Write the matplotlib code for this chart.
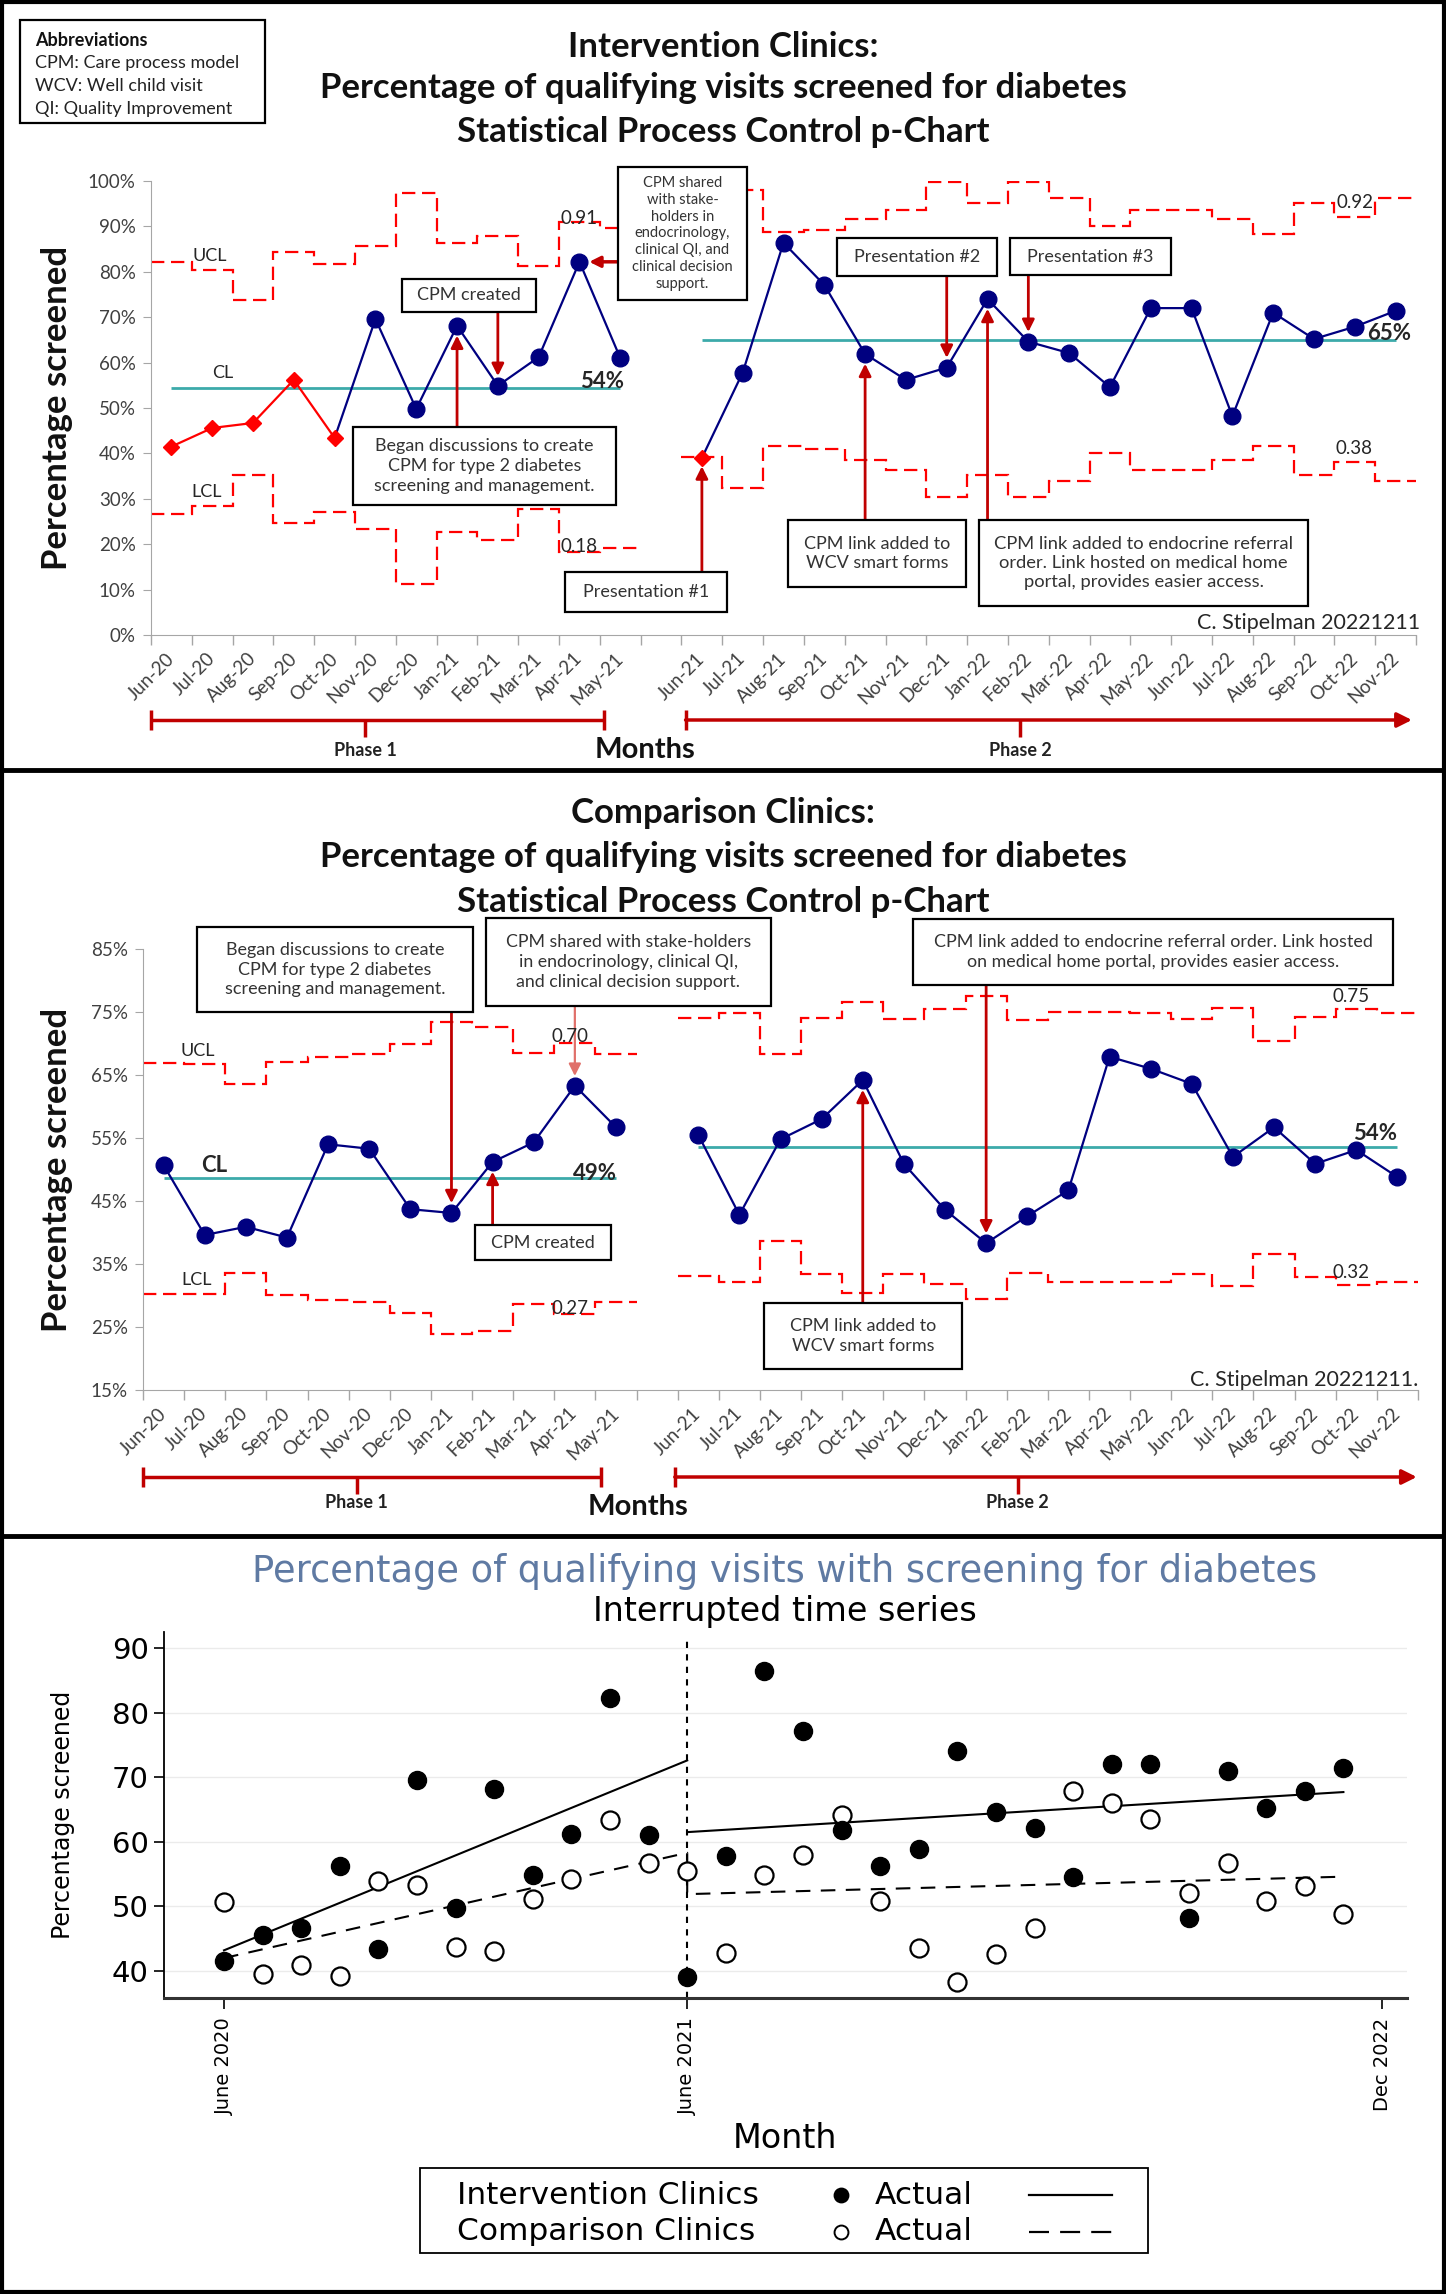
import numpy as np
import matplotlib
matplotlib.use('Agg')
import matplotlib.pyplot as plt
from matplotlib.patches import Rectangle
from matplotlib.transforms import blended_transform_factory as blend

# 데이터
months_p1 = ['Jun-20', 'Jul-20', 'Aug-20', 'Sep-20', 'Oct-20', 'Nov-20', 'Dec-20',
             'Jan-21', 'Feb-21', 'Mar-21', 'Apr-21', 'May-21']
months_p2 = ['Jun-21', 'Jul-21', 'Aug-21', 'Sep-21', 'Oct-21', 'Nov-21', 'Dec-21',
             'Jan-22', 'Feb-22', 'Mar-22', 'Apr-22', 'May-22', 'Jun-22', 'Jul-22',
             'Aug-22', 'Sep-22', 'Oct-22', 'Nov-22']
x_p1 = np.arange(12)
x_p2 = np.arange(13, 31)

# Intervention clinics (%)
int_p1 = [41.5, 45.6, 46.7, 56.2, 43.4, 69.6, 49.8, 68.1, 54.9, 61.2, 82.2, 61.0]
int_p2 = [39.0, 57.8, 86.4, 77.1, 61.9, 56.2, 58.9, 74.0, 64.6, 62.1, 54.6, 72.0,
          72.0, 48.2, 71.0, 65.2, 67.9, 71.4]
int_red_p1 = 5      # first 5 points flagged (red diamonds)
int_red_p2 = 1
int_ucl_p1 = [82.2, 80.5, 73.7, 84.4, 81.8, 85.7, 97.4, 86.3, 87.9, 81.3, 90.9, 89.6]
int_lcl_p1 = [26.6, 28.4, 35.2, 24.6, 27.1, 23.3, 11.3, 22.6, 20.9, 27.8, 18.2, 19.2]
int_ucl_p2 = [98.3, 98.0, 88.7, 89.2, 91.6, 93.6, 99.7, 95.1, 99.7, 96.2, 90.0, 93.6,
              93.6, 91.6, 88.3, 95.1, 92.1, 96.2]
int_lcl_p2 = [39.3, 32.3, 41.6, 41.0, 38.5, 36.3, 30.4, 35.2, 30.4, 33.9, 40.1, 36.3,
              36.3, 38.5, 41.7, 35.2, 38.2, 33.9]
int_cl = [54.4, 65.0]

# Comparison clinics (%)
cmp_p1 = [50.7, 39.6, 40.9, 39.2, 54.0, 53.3, 43.7, 43.1, 51.2, 54.3, 63.3, 56.7]
cmp_p2 = [55.5, 42.8, 54.8, 58.0, 64.2, 50.9, 43.6, 38.3, 42.6, 46.7, 67.9, 66.0,
          63.6, 52.0, 56.7, 50.9, 53.1, 48.8]
cmp_ucl_p1 = [66.9, 66.7, 63.6, 67.1, 67.9, 68.3, 69.9, 73.4, 72.6, 68.5, 70.1, 68.3]
cmp_lcl_p1 = [30.2, 30.2, 33.6, 30.1, 29.3, 28.9, 27.3, 23.9, 24.4, 28.6, 27.1, 28.9]
cmp_ucl_p2 = [74.0, 74.9, 68.3, 74.0, 76.6, 73.9, 75.5, 77.6, 73.7, 75.0, 75.0, 74.9,
              73.9, 75.7, 70.4, 74.2, 75.5, 74.9]
cmp_lcl_p2 = [33.1, 32.1, 38.7, 33.4, 30.4, 33.4, 31.8, 29.4, 33.6, 32.1, 32.2, 32.2,
              33.4, 31.5, 36.6, 32.9, 31.7, 32.1]
cmp_cl = [48.6, 53.6]

# Interrupted time series
its_months = np.arange(30)
its_int = int_p1 + int_p2
its_cmp = cmp_p1 + cmp_p2
fit_int_pre_x, fit_int_pre_y = [0, 12], [43.2, 72.6]
fit_int_post_x, fit_int_post_y = [12, 29], [61.5, 67.7]
fit_cmp_x, fit_cmp_y = [0, 12, 12, 29], [42.0, 58.3, 51.9, 54.6]
its_tick_pos = [0, 12, 30]
its_tick_lab = ['June 2020', 'June 2021', 'Dec 2022']

W, H = 1446, 2294
CAL = ['Lato', 'DejaVu Sans']
ARI = ['DejaVu Sans']
plt.rcParams['font.family'] = CAL

NAVY = '#000080'
RED = '#FF0000'
DRED = '#C00000'
TEAL = '#3CAAAA'
GREY = '#404040'

fig = plt.figure(figsize=(W / 100, H / 100), dpi=100)


def rect(x0, y0, x1, y1):
    return [x0 / W, 1 - y1 / H, (x1 - x0) / W, (y1 - y0) / H]


ov = fig.add_axes([0, 0, 1, 1], zorder=10)
ov.set_xlim(0, W)
ov.set_ylim(H, 0)
ov.axis('off')
ov.patch.set_alpha(0)


def box(x0, y0, x1, y1, text, size=12, ls=1.3, **kw):
    ov.add_patch(Rectangle((x0, y0), x1 - x0, y1 - y0, fc='white', ec='black', lw=1.6, zorder=5))
    ov.text((x0 + x1) / 2, (y0 + y1) / 2, text, ha='center', va='center', fontsize=size,
            color='#333333', linespacing=ls, zorder=6, **kw)


def arrow(ax, i, val, y_px, color=DRED, lw=2.0, shrink=7):
    tr = blend(ax.transData, ov.transData)
    ax.annotate('', xy=(i, val), xycoords='data', xytext=(i, y_px), textcoords=tr,
                arrowprops=dict(arrowstyle='-|>', color=color, lw=lw, mutation_scale=18,
                                shrinkA=0, shrinkB=shrink),
                annotation_clip=False, zorder=6)


def pchart(ax, p1, p2, ucl1, lcl1, ucl2, lcl2, cl, red1, red2):
    dash = (0, (6, 3))
    for vals, edges in [(ucl1, np.arange(-0.5, 12)), (lcl1, np.arange(-0.5, 12)),
                        (ucl2, np.arange(12.5, 31)), (lcl2, np.arange(12.5, 31))]:
        ax.stairs(vals, edges, baseline=None, color=RED, lw=1.6, ls=dash, zorder=2)
    ax.hlines(cl[0], x_p1[0], x_p1[-1], color=TEAL, lw=2, zorder=2)
    ax.hlines(cl[1], x_p2[0], x_p2[-1], color=TEAL, lw=2, zorder=2)
    for xs, ys, nred in [(x_p1, p1, red1), (x_p2, p2, red2)]:
        k = max(nred - 1, 0)
        ax.plot(xs[k:], ys[k:], color=NAVY, lw=1.6, zorder=3)
        ax.plot(xs[nred:], ys[nred:], 'o', color=NAVY, ms=12, zorder=4)
        if nred:
            ax.plot(xs[:nred], ys[:nred], color=RED, lw=1.6, marker='D', ms=8, zorder=4)
    ax.set_xlim(-0.5, 30.5)
    ax.set_xticks(list(x_p1) + list(x_p2))
    ax.set_xticklabels(months_p1 + months_p2, rotation=45, ha='right', va='center',
                       rotation_mode='anchor', fontsize=13.5, color=GREY)
    ax.set_xticks(np.arange(-0.5, 31), minor=True)
    ax.tick_params(axis='x', which='major', length=0, pad=15)
    ax.tick_params(axis='x', which='minor', length=7, color='#A6A6A6', width=1)
    ax.tick_params(axis='y', length=6, color='#A6A6A6', labelsize=13.5, labelcolor=GREY, pad=5)
    for s in ['top', 'right']:
        ax.spines[s].set_visible(False)
    for s in ['left', 'bottom']:
        ax.spines[s].set_color('#A6A6A6')
    ax.patch.set_alpha(0)


def brackets(ax, y, p1, p2, lab_y, months_xy):
    tr = blend(ax.transData, ov.transData)
    kw = dict(color=DRED, lw=2.5, transform=tr, solid_capstyle='butt')
    ov.plot([p1[0], p1[1]], [y, y], **kw)
    for xx in p1[:2]:
        ov.plot([xx, xx], [y - 10, y + 10], **kw)
    ov.plot([p1[2], p1[2]], [y, y + 17], **kw)
    ov.plot([p2[0], p2[0]], [y - 10, y + 10], **kw)
    ov.plot([p2[2], p2[2]], [y, y + 17], **kw)
    ov.annotate('', xy=(p2[1], y), xycoords=tr, xytext=(p2[0], y), textcoords=tr,
                arrowprops=dict(arrowstyle='-|>', color=DRED, lw=2.5, mutation_scale=22,
                                shrinkA=0, shrinkB=0))
    ov.text(p1[2], lab_y, 'Phase 1', transform=tr, ha='center', va='center',
            fontsize=13, weight='bold', color='#222222')
    ov.text(p2[2], lab_y, 'Phase 2', transform=tr, ha='center', va='center',
            fontsize=13, weight='bold', color='#222222')
    ov.text(months_xy[0], months_xy[1], 'Months', ha='center', va='center',
            fontsize=21, weight='bold', color='#111111')


TSZ = 25   # panel title size

# ---------------- Panel 1: intervention p-chart ----------------
ax1 = fig.add_axes(rect(151, 181, 1416, 635))
pchart(ax1, int_p1, int_p2, int_ucl_p1, int_lcl_p1, int_ucl_p2, int_lcl_p2, int_cl,
       int_red_p1, int_red_p2)
ax1.set_ylim(0, 100)
ax1.set_yticks(np.arange(0, 101, 10))
ax1.set_yticklabels([f'{v}%' for v in range(0, 101, 10)])

ov.add_patch(Rectangle((20, 20), 245, 103, fc='white', ec='black', lw=1.6, zorder=5))
ov.text(35, 41, 'Abbreviations', fontsize=13, weight='bold', va='center', zorder=6, color='#111111')
for k, t in enumerate(['CPM: Care process model', 'WCV: Well child visit', 'QI: Quality Improvement']):
    ov.text(35, 63 + 23 * k, t, fontsize=13, va='center', zorder=6, color='#222222')

for y, t in [(47, 'Intervention Clinics:'),
             (88, 'Percentage of qualifying visits screened for diabetes'),
             (132, 'Statistical Process Control p-Chart')]:
    ov.text(723, y, t, ha='center', va='center', fontsize=TSZ, weight='bold', color='#111111')

ov.text(57, 408, 'Percentage screened', rotation=90, ha='center', va='center',
        fontsize=25, weight='bold', color='#111111')

for (x, y, t, sz, wt) in [(210, 256, 'UCL', 13, 'normal'), (223, 373, 'CL', 13, 'normal'),
                          (207, 492, 'LCL', 13, 'normal'), (602, 381, '54%', 16, 'bold'),
                          (1389, 333, '65%', 16, 'bold'), (579, 218, '0.91', 13.5, 'normal'),
                          (579, 546, '0.18', 13.5, 'normal'), (1355, 203, '0.92', 13.5, 'normal'),
                          (1354, 448, '0.38', 13.5, 'normal')]:
    ov.text(x, y, t, ha='center', va='center', fontsize=sz, weight=wt, color='#262626', zorder=4)

box(402, 279, 536, 312, 'CPM created', size=13)
box(353, 427, 616, 505, 'Began discussions to create\nCPM for type 2 diabetes\nscreening and management.',
    size=13, ls=1.3)
box(618, 167, 747, 300, 'CPM shared\nwith stake-\nholders in\nendocrinology,\nclinical QI, and\nclinical decision\nsupport.',
    size=10.5, ls=1.25)
box(565, 572, 727, 612, 'Presentation #1', size=13)
box(837, 238, 997, 276, 'Presentation #2', size=13)
box(1010, 238, 1171, 275, 'Presentation #3', size=13)
box(788, 520, 966, 587, 'CPM link added to\nWCV smart forms', size=13, ls=1.3)
box(979, 520, 1308, 606, 'CPM link added to endocrine referral\norder. Link hosted on medical home\nportal, provides easier access.',
    size=13.2, ls=1.25)

arrow(ax1, x_p1[8], int_p1[8], 312)
arrow(ax1, x_p1[7], int_p1[7], 427)
arrow(ax1, x_p2[0], int_p2[0], 572, shrink=6)
arrow(ax1, x_p2[6], int_p2[6], 276)
arrow(ax1, x_p2[8], int_p2[8], 275)
arrow(ax1, x_p2[4], int_p2[4], 520)
arrow(ax1, x_p2[7], int_p2[7], 520)
ax1.annotate('', xy=(x_p1[10], int_p1[10]), xycoords='data', xytext=(618, int_p1[10]),
             textcoords=blend(ov.transData, ax1.transData),
             arrowprops=dict(arrowstyle='-|>', color=DRED, lw=2.5, mutation_scale=16,
                             shrinkA=0, shrinkB=7), annotation_clip=False)

ov.text(1420, 623, 'C. Stipelman 20221211', ha='right', va='center', fontsize=15.5, color='#262626')
brackets(ax1, 720, (-0.5, 10.6, 4.75), (12.6, 30.4, 20.8), 750, (645, 750))

# ---------------- Panel 2: comparison p-chart ----------------
ax2 = fig.add_axes(rect(143, 949, 1418, 1390))
pchart(ax2, cmp_p1, cmp_p2, cmp_ucl_p1, cmp_lcl_p1, cmp_ucl_p2, cmp_lcl_p2, cmp_cl, 0, 0)
ax2.set_ylim(15, 85)
ax2.set_yticks(np.arange(15, 86, 10))
ax2.set_yticklabels([f'{v}%' for v in range(15, 86, 10)])

for y, t in [(813, 'Comparison Clinics:'),
             (857, 'Percentage of qualifying visits screened for diabetes'),
             (902, 'Statistical Process Control p-Chart')]:
    ov.text(723, y, t, ha='center', va='center', fontsize=TSZ, weight='bold', color='#111111')

ov.text(57, 1170, 'Percentage screened', rotation=90, ha='center', va='center',
        fontsize=25, weight='bold', color='#111111')

for (x, y, t, sz, wt) in [(198, 1051, 'UCL', 13, 'normal'), (214, 1165, 'CL', 16, 'bold'),
                          (197, 1280, 'LCL', 13, 'normal'), (595, 1173, '49%', 16, 'bold'),
                          (1375, 1133, '54%', 16, 'bold'), (570, 1037, '0.70', 13.5, 'normal'),
                          (570, 1308, '0.27', 13.5, 'normal'), (1351, 996, '0.75', 13.5, 'normal'),
                          (1351, 1272, '0.32', 13.5, 'normal')]:
    ov.text(x, y, t, ha='center', va='center', fontsize=sz, weight=wt, color='#262626', zorder=4)

box(197, 927, 473, 1012, 'Began discussions to create\nCPM for type 2 diabetes\nscreening and management.',
    size=13, ls=1.3)
box(486, 918, 771, 1006, 'CPM shared with stake-holders\nin endocrinology, clinical QI,\nand clinical decision support.',
    size=12.8, ls=1.3)
box(475, 1225, 611, 1260, 'CPM created', size=13)
box(913, 919, 1393, 985, 'CPM link added to endocrine referral order. Link hosted\non medical home portal, provides easier access.',
    size=12.9, ls=1.3)
box(764, 1303, 962, 1369, 'CPM link added to\nWCV smart forms', size=13, ls=1.3)

arrow(ax2, x_p1[7], cmp_p1[7], 1012)
arrow(ax2, x_p1[10], cmp_p1[10], 1006, color='#E0706A', lw=1.6)
arrow(ax2, x_p1[8], cmp_p1[8], 1225)
arrow(ax2, x_p2[7], cmp_p2[7], 985)
arrow(ax2, x_p2[4], cmp_p2[4], 1303)

ov.text(1418, 1380, 'C. Stipelman 20221211.', ha='right', va='center', fontsize=15.5, color='#262626')
brackets(ax2, 1477, (-0.5, 10.64, 4.7), (12.43, 30.47, 20.77), 1503, (638, 1507))

# ---------------- Panel 3: interrupted time series ----------------
ax3 = fig.add_axes(rect(164, 1632, 1407, 1998))
ax3.set_xlim((164 - 224) / 38.6, (1407 - 224) / 38.6)
ax3.set_ylim(35.82, 92.48)
ax3.grid(axis='y', color='#EBEBEB', lw=1)
ax3.set_axisbelow(True)
ax3.axvline(12, ymax=(91.7 - 35.82) / (92.48 - 35.82), color='black', lw=1.5, ls=(0, (3, 3)))
ax3.plot(fit_int_pre_x, fit_int_pre_y, color='black', lw=1.5)
ax3.plot(fit_int_post_x, fit_int_post_y, color='black', lw=1.5)
ax3.plot(fit_cmp_x, fit_cmp_y, color='black', lw=1.5, ls=(0, (7, 5)))
ax3.plot(its_months, its_cmp, 'o', ms=13, mfc='white', mec='black', mew=1.6)
ax3.plot(its_months, its_int, 'o', ms=13, color='black')
ax3.set_yticks(np.arange(40, 91, 10))
ax3.set_xticks(its_tick_pos)
ax3.set_xticklabels(its_tick_lab, rotation=90, va='top', ha='center', family=ARI, fontsize=14)
for lab in ax3.get_yticklabels():
    lab.set_family(ARI)
ax3.tick_params(axis='y', labelsize=21, length=7, width=1.2, pad=4)
ax3.tick_params(axis='x', length=8, width=1.2, pad=6)
for s in ['top', 'right']:
    ax3.spines[s].set_visible(False)
ax3.spines['left'].set_linewidth(1.3)
ax3.spines['bottom'].set_linewidth(2.2)
ax3.spines['bottom'].set_color('#333333')
ax3.patch.set_alpha(0)

ov.text(785, 1572, 'Percentage of qualifying visits with screening for diabetes', ha='center',
        va='center', fontsize=26.5, color='#5F7AA3', family=ARI)
ov.text(785, 1612, 'Interrupted time series', ha='center', va='center', fontsize=24,
        color='black', family=ARI)
ov.text(63, 1815, 'Percentage screened', rotation=90, ha='center', va='center', fontsize=17,
        color='black', family=ARI)
ov.text(785, 2138, 'Month', ha='center', va='center', fontsize=24, color='black', family=ARI)

ov.add_patch(Rectangle((420, 2168), 728, 85, fc='white', ec='black', lw=1.3, zorder=5))
for y, name, mfc, ls in [(2195, 'Intervention Clinics', 'black', '-'),
                         (2232, 'Comparison Clinics', 'white', (0, (9, 5)))]:
    ov.text(457, y, name, ha='left', va='center', fontsize=22.5, family=ARI, zorder=6)
    ov.plot([841], [y], 'o', ms=10, mfc=mfc, mec='black', mew=1.4, zorder=6)
    ov.text(875, y, 'Actual', ha='left', va='center', fontsize=22.5, family=ARI, zorder=6)
    ov.plot([1029, 1112], [y, y], color='black', lw=1.6, ls=ls, zorder=6)

# frames
ov.add_patch(Rectangle((2, 2), W - 4, H - 4, fc='none', ec='black', lw=3, zorder=20))
ov.plot([0, W], [770, 770], color='black', lw=3.5, zorder=20)
ov.plot([0, W], [1536, 1536], color='black', lw=3.5, zorder=20)

fig.savefig('out.png', dpi=100)
